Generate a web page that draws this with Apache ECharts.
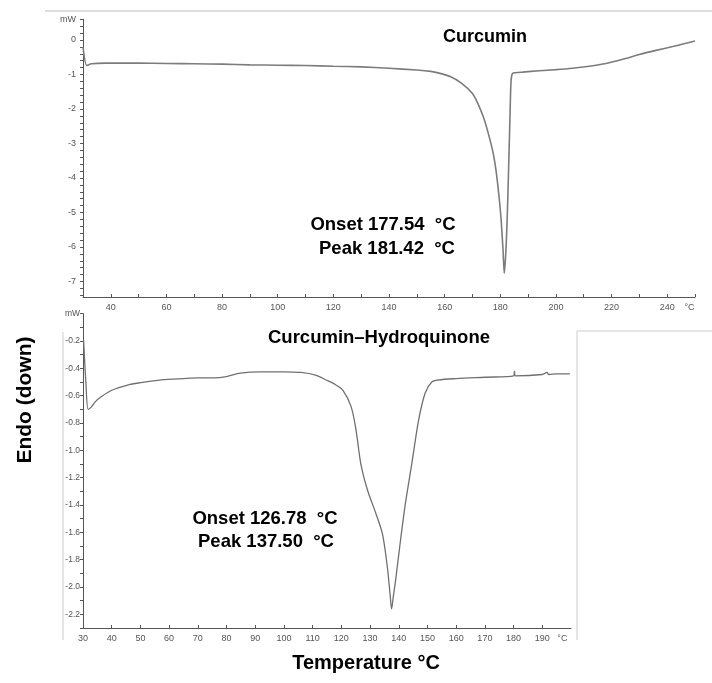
<!DOCTYPE html>
<html>
<head>
<meta charset="utf-8">
<script src="https://cdn.jsdelivr.net/npm/echarts@6/dist/echarts.min.js"></script>
<style>
  html, body { margin: 0; padding: 0; background: #fff; }
  #chart { width: 712px; height: 683px; }
</style>
</head>
<body>
<div id="chart"></div>
<script>
// DSC thermogram of curcumin (heat flow, mW vs temperature, °C)
const curcuminTemp = [30, 31.3, 33, 38, 50, 60, 70, 80, 90, 100, 110, 120, 130, 140, 150, 155, 158, 162, 166, 170,
  172, 174, 176, 177.5, 178.5, 179.5, 180.3, 181, 181.42, 181.9, 182.3, 182.7, 183.1, 183.5, 183.8, 184.2, 185, 188,
  194, 200, 206, 212, 218, 224, 230, 236, 242, 246, 250];
const curcuminHeat = [-0.2, -0.74, -0.69, -0.67, -0.67, -0.68, -0.69, -0.70, -0.72, -0.73, -0.74, -0.76, -0.78, -0.82,
  -0.87, -0.91, -0.96, -1.06, -1.25, -1.55, -1.85, -2.25, -2.8, -3.3, -3.8, -4.5, -5.2, -6.1, -6.76, -6.3, -5.6, -4.6,
  -3.4, -2.2, -1.3, -1.0, -0.95, -0.93, -0.89, -0.86, -0.82, -0.76, -0.68, -0.56, -0.42, -0.3, -0.19, -0.11, -0.03];

// DSC thermogram of the curcumin–hydroquinone cocrystal
const cocrystalTemp = [30.2, 31, 31.8, 33, 34.5, 36.2, 40, 45.8, 50, 57.3, 65, 70, 75.5, 80, 84.8, 91.7, 100, 106,
  111, 114.7, 118, 120.5, 123.4, 125.1, 126.8, 129.1, 132.0, 134.3, 136.0, 137.0, 137.5, 138.1, 138.9, 140.6, 142.3,
  144.6, 146.9, 149.2, 151.5, 153.8, 160, 170, 180, 180.3, 180.6, 190, 191.7, 192.2, 195, 199.6];
const cocrystalHeat = [-0.19, -0.5, -0.70, -0.68, -0.64, -0.61, -0.56, -0.52, -0.505, -0.485, -0.475, -0.47, -0.47,
  -0.46, -0.435, -0.425, -0.425, -0.43, -0.45, -0.485, -0.52, -0.56, -0.68, -0.85, -1.10, -1.29, -1.46, -1.61, -1.85,
  -2.06, -2.16, -2.07, -1.95, -1.66, -1.39, -1.09, -0.78, -0.58, -0.50, -0.485, -0.475, -0.465, -0.455, -0.42, -0.455,
  -0.445, -0.43, -0.445, -0.44, -0.44];

// Tick label values
const topTempLabels = [40, 60, 80, 100, 120, 140, 160, 180, 200, 220, 240];
const topHeatLabels = [0, -1, -2, -3, -4, -5, -6, -7];
const bottomTempLabels = [30, 40, 50, 60, 70, 80, 90, 100, 110, 120, 130, 140, 150, 160, 170, 180, 190];
const bottomHeatLabels = [-0.2, -0.4, -0.6, -0.8, -1.0, -1.2, -1.4, -1.6, -1.8, -2.0, -2.2];

// Axis ranges
const topX = { min: 30, max: 250 };
const topY = { min: -7.45, max: 0.6 };
const botX = { min: 30, max: 200 };
const botY = { min: -2.3, max: 0 };

function steps(from, to, step) {
  const out = [];
  const n = Math.round((to - from) / step);
  for (let i = 0; i <= n; i++) out.push(Math.round((from + i * step) * 1000) / 1000);
  return out;
}

const axisColor = '#555';
const labelStyle = { color: '#555', fontSize: 9, fontFamily: 'Liberation Sans, Arial, sans-serif' };
const curveColor = '#707070';
const bold = size => 'bold ' + size + 'px Liberation Sans, Arial, sans-serif';

const chart = echarts.init(document.getElementById('chart'));
chart.setOption({
  animation: false,
  backgroundColor: '#fff',
  grid: [
    { left: 83, right: 17, top: 19.3, bottom: 386 },
    { left: 83, right: 141, top: 313.7, bottom: 55 }
  ],
  xAxis: [
    {
      type: 'value', gridIndex: 0, min: topX.min, max: topX.max,
      axisLine: { onZero: false, lineStyle: { color: axisColor, width: 1 } },
      axisTick: { inside: true, length: 3, lineStyle: { color: axisColor }, customValues: steps(30, 250, 10) },
      axisLabel: Object.assign({}, labelStyle, {
        margin: 6,
        customValues: topTempLabels.concat([248]),
        formatter: v => (v === 248 ? '°C' : String(v))
      }),
      splitLine: { show: false }
    },
    {
      type: 'value', gridIndex: 1, min: botX.min, max: botX.max,
      axisLine: { onZero: false, lineStyle: { color: axisColor, width: 1 } },
      axisTick: { inside: true, length: 3, lineStyle: { color: axisColor }, customValues: steps(30, 190, 10) },
      axisLabel: Object.assign({}, labelStyle, {
        margin: 6,
        customValues: bottomTempLabels.concat([197]),
        formatter: v => (v === 197 ? '°C' : String(v))
      }),
      splitLine: { show: false }
    }
  ],
  yAxis: [
    {
      type: 'value', gridIndex: 0, min: topY.min, max: topY.max,
      axisLine: { show: true, onZero: false, lineStyle: { color: axisColor, width: 1 } },
      axisTick: { show: true, length: 3, lineStyle: { color: axisColor }, customValues: steps(-7.4, 0.6, 0.2) },
      axisLabel: Object.assign({}, labelStyle, {
        margin: 7,
        customValues: topHeatLabels.concat([0.6]),
        formatter: v => (v === 0.6 ? 'mW' : String(v))
      }),
      splitLine: { show: false }
    },
    {
      type: 'value', gridIndex: 1, min: botY.min, max: botY.max,
      axisLine: { show: true, onZero: false, lineStyle: { color: axisColor, width: 1 } },
      axisTick: { show: true, length: 3, lineStyle: { color: axisColor }, customValues: steps(-2.3, 0, 0.1) },
      axisLabel: Object.assign({}, labelStyle, {
        margin: 3, fontSize: 8.5,
        customValues: bottomHeatLabels.concat([0]),
        formatter: v => (v === 0 ? 'mW' : v.toFixed(1))
      }),
      splitLine: { show: false }
    }
  ],
  series: [
    {
      type: 'line', xAxisIndex: 0, yAxisIndex: 0, smooth: 0.2, symbol: 'none',
      lineStyle: { color: '#7c7c7c', width: 1.6 },
      data: curcuminTemp.map((t, i) => [t, curcuminHeat[i]])
    },
    {
      type: 'line', xAxisIndex: 1, yAxisIndex: 1, smooth: 0.3, symbol: 'none',
      lineStyle: { color: curveColor, width: 1.3 },
      data: cocrystalTemp.map((t, i) => [t, cocrystalHeat[i]])
    }
  ],
  graphic: [
    // panel frames
    { type: 'line', shape: { x1: 45, y1: 11, x2: 712, y2: 11 }, style: { stroke: '#bbb', lineWidth: 1 } },
    { type: 'line', shape: { x1: 63, y1: 332, x2: 63, y2: 640 }, style: { stroke: '#ccc', lineWidth: 1 } },
    { type: 'line', shape: { x1: 577, y1: 331, x2: 712, y2: 331 }, style: { stroke: '#ccc', lineWidth: 1 } },
    { type: 'line', shape: { x1: 577, y1: 331, x2: 577, y2: 640 }, style: { stroke: '#ccc', lineWidth: 1 } },
    // annotations
    { type: 'text', x: 485, y: 37, style: { text: 'Curcumin', font: bold(18), fill: '#000', align: 'center', verticalAlign: 'middle' } },
    { type: 'text', x: 383, y: 225, style: { text: 'Onset 177.54  °C', font: bold(18.5), fill: '#000', align: 'center', verticalAlign: 'middle' } },
    { type: 'text', x: 387, y: 249, style: { text: 'Peak 181.42  °C', font: bold(18.5), fill: '#000', align: 'center', verticalAlign: 'middle' } },
    { type: 'text', x: 379, y: 338, style: { text: 'Curcumin–Hydroquinone', font: bold(18.5), fill: '#000', align: 'center', verticalAlign: 'middle' } },
    { type: 'text', x: 265, y: 519, style: { text: 'Onset 126.78  °C', font: bold(18.5), fill: '#000', align: 'center', verticalAlign: 'middle' } },
    { type: 'text', x: 266, y: 542, style: { text: 'Peak 137.50  °C', font: bold(18.5), fill: '#000', align: 'center', verticalAlign: 'middle' } },
    { type: 'text', x: 25, y: 400, rotation: Math.PI / 2, style: { text: 'Endo (down)', font: bold(21), fill: '#000', align: 'center', verticalAlign: 'middle' } },
    { type: 'text', x: 366, y: 663, style: { text: 'Temperature °C', font: bold(20), fill: '#000', align: 'center', verticalAlign: 'middle' } }
  ]
});
</script>
</body>
</html>
